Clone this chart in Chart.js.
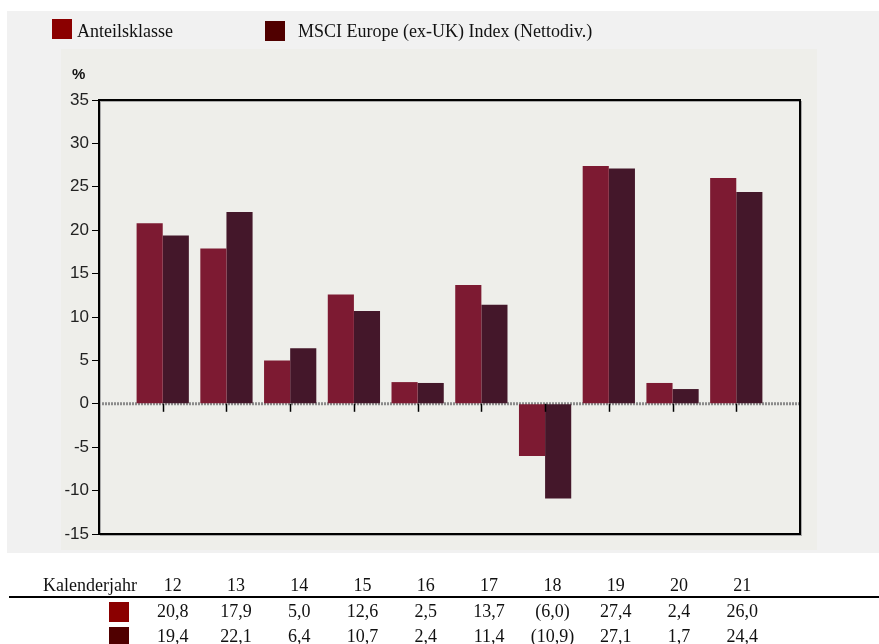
<!DOCTYPE html>
<html>
<head>
<meta charset="utf-8">
<script src="https://cdn.jsdelivr.net/npm/chart.js@4"></script>
<style>
  body { margin: 0; background: #fff; }
  canvas { display: block; }
</style>
</head>
<body>
<canvas id="myChart" width="879" height="644"></canvas>
<script>
// data
const years = ['12', '13', '14', '15', '16', '17', '18', '19', '20', '21'];
const fundValues = [20.8, 17.9, 5.0, 12.6, 2.5, 13.7, -6.0, 27.4, 2.4, 26.0];
const indexValues = [19.4, 22.1, 6.4, 10.7, 2.4, 11.4, -10.9, 27.1, 1.7, 24.4];
const seriesNames = ['Anteilsklasse', 'MSCI Europe (ex-UK) Index (Nettodiv.)'];
const yTicks = { min: -15, max: 35, step: 5 };

const barColors = ['#7d1a32', '#44172a'];
const keyColors = ['#8b0000', '#500000'];
const serif = '"Liberation Serif", "Times New Roman", serif';
const sans = '"Liberation Sans Narrow", "Liberation Sans", Arial, sans-serif';

// empty slot at both ends, like the original
const labels = [''].concat(years, ['']);
const pad = (arr) => [null].concat(arr, [null]);

const fmt = (v) => {
    const s = Math.abs(v).toFixed(1).replace('.', ',');
    return v < 0 ? '(' + s + ')' : s;
};

const decor = {
    id: 'decor',
    beforeDraw(chart) {
        const ctx = chart.ctx;
        ctx.save();
        ctx.fillStyle = '#ffffff';
        ctx.fillRect(0, 0, chart.width, chart.height);
        ctx.fillStyle = '#f1f1f1';
        ctx.fillRect(7, 11, 872, 542);
        ctx.fillStyle = '#eeeeea';
        ctx.fillRect(61, 49, 756, 501);

        // legend
        ctx.font = '18px ' + serif;
        ctx.textBaseline = 'alphabetic';
        ctx.fillStyle = keyColors[0];
        ctx.fillRect(52, 19, 20, 20);
        ctx.fillStyle = keyColors[1];
        ctx.fillRect(265, 21, 20, 20);
        ctx.fillStyle = '#111';
        ctx.fillText(seriesNames[0], 77, 37);
        ctx.fillText(seriesNames[1], 298, 37);

        // unit label
        ctx.font = 'bold 15px ' + sans;
        ctx.fillText('%', 72, 79);
        ctx.restore();
    },
    beforeDatasetsDraw(chart) {
        const ctx = chart.ctx;
        const a = chart.chartArea;
        const y0 = chart.scales.y.getPixelForValue(0);
        ctx.save();
        ctx.strokeStyle = '#8a8a8a';
        ctx.lineWidth = 3;
        ctx.setLineDash([2, 1]);
        ctx.beginPath();
        ctx.moveTo(a.left, y0);
        ctx.lineTo(a.right, y0);
        ctx.stroke();
        ctx.restore();
    },
    afterDatasetsDraw(chart) {
        const ctx = chart.ctx;
        const a = chart.chartArea;
        const x = chart.scales.x;
        const y0 = chart.scales.y.getPixelForValue(0);
        ctx.save();
        // frame
        ctx.strokeStyle = '#aaa';
        ctx.lineWidth = 1;
        ctx.strokeRect(a.left + 1.5, a.top + 1.5, a.right - a.left, a.bottom - a.top);
        ctx.strokeStyle = '#000';
        ctx.lineWidth = 2;
        ctx.strokeRect(a.left, a.top, a.right - a.left, a.bottom - a.top);

        // category ticks on the zero line
        ctx.lineWidth = 1.5;
        years.forEach((yr, i) => {
            const px = Math.round(x.getPixelForValue(i + 1)) + 0.5;
            ctx.beginPath();
            ctx.moveTo(px, y0);
            ctx.lineTo(px, y0 + 8);
            ctx.stroke();
        });
        ctx.restore();
    },
    afterDraw(chart) {
        const ctx = chart.ctx;
        const x = chart.scales.x;
        ctx.save();
        ctx.font = '18px ' + serif;
        ctx.fillStyle = '#111';
        ctx.textBaseline = 'alphabetic';
        ctx.textAlign = 'left';
        ctx.fillText('Kalenderjahr', 43, 591);
        ctx.textAlign = 'center';
        const rows = [fundValues, indexValues];
        years.forEach((yr, i) => {
            const px = x.getPixelForValue(i + 1) + 10 - i * 0.45;
            ctx.fillText(yr, px, 591);
            rows.forEach((r, k) => {
                ctx.fillText(fmt(r[i]), px, 617 + k * 25);
            });
        });
        ctx.strokeStyle = '#000';
        ctx.lineWidth = 2;
        ctx.beginPath();
        ctx.moveTo(9, 597);
        ctx.lineTo(879, 597);
        ctx.stroke();
        ctx.fillStyle = keyColors[0];
        ctx.fillRect(109, 602, 20, 20);
        ctx.fillStyle = keyColors[1];
        ctx.fillRect(109, 627, 20, 20);
        ctx.restore();
    }
};

const chart = new Chart(document.getElementById('myChart'), {
    type: 'bar',
    data: {
        labels: labels,
        datasets: [{
            label: seriesNames[0],
            data: pad(fundValues),
            backgroundColor: barColors[0],
            borderWidth: 0,
            categoryPercentage: 0.82,
            barPercentage: 1
        }, {
            label: seriesNames[1],
            data: pad(indexValues),
            backgroundColor: barColors[1],
            borderWidth: 0,
            categoryPercentage: 0.82,
            barPercentage: 1
        }]
    },
    options: {
        responsive: false,
        animation: false,
        events: [],
        layout: { padding: { left: 0, right: 79, top: 100, bottom: 110 } },
        plugins: {
            legend: { display: false },
            tooltip: { enabled: false }
        },
        scales: {
            x: {
                display: false,
                offset: false
            },
            y: {
                min: yTicks.min,
                max: yTicks.max,
                afterFit: (s) => { s.width = 99; },
                border: { display: false },
                grid: {
                    drawOnChartArea: false,
                    tickLength: 7,
                    color: '#000',
                    lineWidth: 1
                },
                ticks: {
                    stepSize: yTicks.step,
                    padding: 3,
                    color: '#222',
                    font: { family: sans, size: 17 }
                }
            }
        }
    },
    plugins: [decor]
});
</script>
</body>
</html>
